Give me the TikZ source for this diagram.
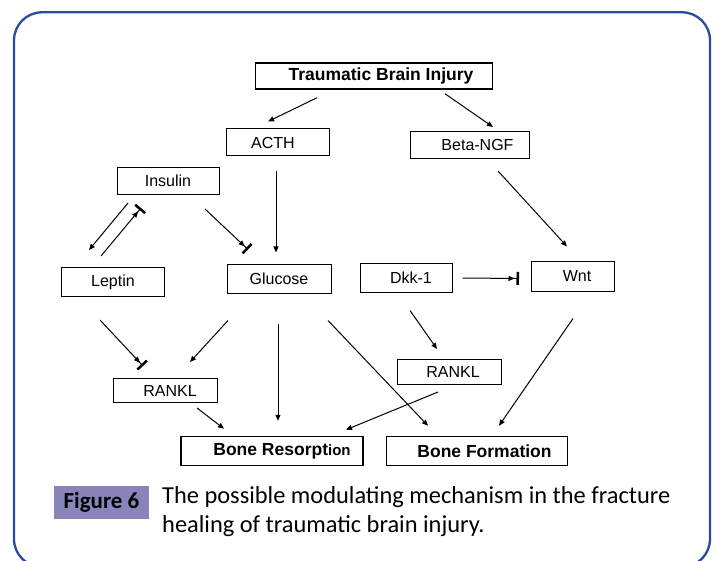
\documentclass[tikz,border=0pt]{standalone}
\usepackage{fontspec}
\usetikzlibrary{arrows.meta}
\newfontfamily\arialfont{Liberation Sans}
\newfontfamily\calibrifont{Carlito}
\definecolor{framecol}{RGB}{43,74,155}
\definecolor{figcol}{RGB}{137,132,185}

\begin{document}
\begin{tikzpicture}[x=1pt, y=-1pt,
  box/.style={draw, line width=1pt, inner sep=0pt, font=\arialfont\fontsize{16}{16}\selectfont},
  bbox/.style={draw, line width=1.5pt, inner sep=0pt, font=\arialfont\bfseries\fontsize{17.5}{17.5}\selectfont},
  arr/.style={-{Triangle[length=6pt,width=5pt]}, line width=1pt},
  inh/.style={-{Triangle[length=6pt,width=5pt,sep=2pt]Bar[width=13pt,line width=2.5pt]}, line width=1pt}]
\useasboundingbox (0,0) rectangle (717,561);
\draw[framecol, line width=2.3pt, rounded corners=28pt] (14,12.3) rectangle (710,567);
% boxes
\node[bbox, minimum width=237pt, minimum height=26pt] (tbi) at (374,76) {\hspace*{14pt}Traumatic Brain Injury};
\node[box, minimum width=103pt, minimum height=27pt] (acth) at (278,142.5) {ACTH\hspace*{10pt}};
\node[box, minimum width=119pt, minimum height=27pt] (ngf) at (470,145) {\hspace*{15pt}Beta-NGF};
\node[box, minimum width=102pt, minimum height=27pt] (insulin) at (168,181) {Insulin};
\node[box, minimum width=103pt, minimum height=29pt] (leptin) at (113,282) {Leptin};
\node[box, minimum width=104pt, minimum height=28pt] (glucose) at (279,279) {Glucose};
\node[box, minimum width=92pt, minimum height=28pt] (dkk) at (406,278) {\hspace*{10pt}Dkk-1};
\node[box, minimum width=83pt, minimum height=29pt] (wnt) at (573,276.5) {\hspace*{8pt}Wnt};
\node[box, minimum width=104pt, minimum height=25pt] (rankl2) at (449,372) {\hspace*{8pt}RANKL};
\node[box, minimum width=104pt, minimum height=24pt] (rankl1) at (165,390.5) {\hspace*{10pt}RANKL};
\node[bbox, minimum width=182pt, minimum height=29pt] (resorp) at (272,451) {\hspace*{20pt}Bone Resorpt{\fontsize{15}{15}\selectfont ion}};
\node[bbox, minimum width=181pt, minimum height=29pt] (form) at (477,451) {\hspace*{15pt}Bone Formation};
% arrows
\path [arr] ([shift={(-57,8)}]tbi.south) edge ([shift={(-10,-7)}]acth.north);
\path [arr] ([shift={(71,4)}]tbi.south) edge ([shift={(23,-4)}]ngf.north);
\path [arr] ([shift={(28,12)}]ngf.south) edge ([shift={(-6,-15)}]wnt.north);
\path [arr] ([shift={(-2,15)}]acth.south) edge ([shift={(-3,-12)}]glucose.north);
\path [arr] ([shift={(-40,8)}]insulin.south) edge ([shift={(-24,-17)}]leptin.north);
\path [inh] ([shift={(-12,-11)}]leptin.north) edge ([shift={(-27,13)}]insulin.south);
\path [inh] ([shift={(37,14)}]insulin.south) edge ([shift={(-31,-15)}]glucose.north);
\path [inh] ([shift={(10,0)}]dkk.east) edge ([shift={(-12,2)}]wnt.west);
\path [arr] ([shift={(4,18)}]dkk.south) edge ([shift={(-12,-10)}]rankl2.north);
\path [inh] ([shift={(-13,23)}]leptin.south) edge ([shift={(-22,-12)}]rankl1.north);
\path [arr] ([shift={(-51,27)}]glucose.south) edge ([shift={(25,-16)}]rankl1.north);
\path [arr] ([shift={(-1,30)}]glucose.south) edge ([shift={(6,-15)}]resorp.north);
\path [arr] ([shift={(49,27)}]glucose.south) edge ([shift={(-49,-10)}]form.north);
\path [arr] ([shift={(-11,7)}]rankl2.south) edge ([shift={(74,-6)}]resorp.north);
\path [arr] ([shift={(0,27)}]wnt.south) edge ([shift={(22,-10)}]form.north);
\path [arr] ([shift={(32,5)}]rankl1.south) edge ([shift={(-48,-7)}]resorp.north);
% caption
\node[fill=figcol, minimum width=95pt, minimum height=33pt, inner sep=0pt, font=\calibrifont\bfseries\fontsize{23}{23}\selectfont] (fig) at (101.5,502.7) {Figure 6};
\node[anchor=base west, inner sep=0pt, font=\calibrifont\fontsize{24.4}{24.4}\selectfont] (cap1) at (162,503.3) {The possible modulating mechanism in the fracture};
\node[anchor=base west, inner sep=0pt, font=\calibrifont\fontsize{24.4}{24.4}\selectfont] (cap2) at (162,532.7) {healing of traumatic brain injury.};
\end{tikzpicture}
\end{document}
